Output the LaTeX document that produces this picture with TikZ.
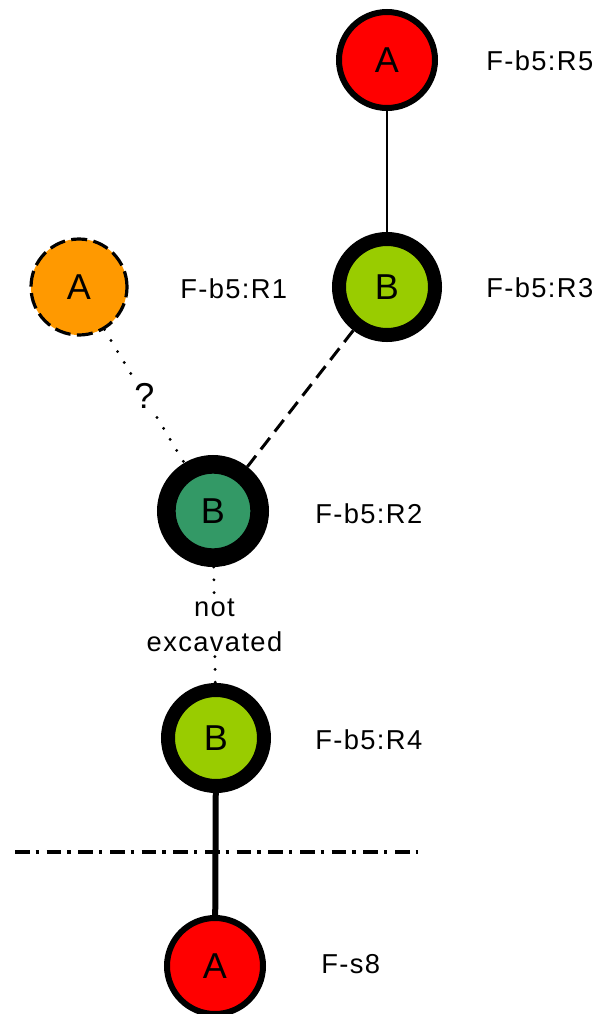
\documentclass[tikz,border=0pt]{standalone}
\usepackage{fontspec}
\setmainfont{Liberation Sans}
\usetikzlibrary{calc}

\definecolor{siteRed}{HTML}{FF0000}
\definecolor{siteOrange}{HTML}{FF9900}
\definecolor{siteLime}{HTML}{99CC00}
\definecolor{siteGreen}{HTML}{339966}

\begin{document}
\begin{tikzpicture}[x=0.75pt, y=-0.75pt,
    site/.style={circle, draw, inner sep=0pt, minimum size=72pt,
        font=\fontsize{27}{30}\selectfont},
    rimthin/.style={line width=4.5pt},
    rimthick/.style={line width=10.5pt},
    rimheavy/.style={line width=14pt, minimum size=70pt},
    rimdashed/.style={line width=2.4pt, dash pattern=on 12pt off 4.8pt},
    tag/.style={anchor=west, inner sep=0pt,
        font=\fontsize{20.5}{26}\selectfont\addfontfeature{LetterSpace=5}},
    dots/.style={line width=2.4pt, line cap=round, dash pattern=on 0pt off 9.6pt}]
    \useasboundingbox (0,0) rectangle (599,1014);

    % Define the sites
    \node[site, rimthin, fill=siteRed] (R5) at (387,60) {A};
    \node[site, rimthick, fill=siteLime] (R3) at (387,287) {B};
    \node[site, rimdashed, fill=siteOrange] (R1) at (79,287) {A};
    \node[site, rimheavy, fill=siteGreen] (R2) at (213,511) {B};
    \node[site, rimthick, fill=siteLime] (R4) at (216,738) {B};
    \node[site, rimthin, fill=siteRed] (S8) at (215,966) {A};

    % Place the labels beside the sites
    \node[tag] (R5tag) at (486,61) {F-b5:R5};
    \node[tag] (R3tag) at (486,288) {F-b5:R3};
    \node[tag] (R1tag) at (180,289) {F-b5:R1};
    \node[tag] (R2tag) at (315,514) {F-b5:R2};
    \node[tag] (R4tag) at (315,740) {F-b5:R4};
    \node[tag] (S8tag) at (321,964) {F-s8};

    % Draw the links between sites
    \draw[line width=1.5pt] (R5) -- (R3);
    \draw[line width=2.25pt, dash pattern=on 11pt off 6pt] (R3) -- (R2);
    \draw[dots] (R1) -- node[midway, fill=white, inner sep=3pt,
        font=\fontsize{27}{28}\selectfont] (ask) {?} (R2);
    \draw[dots] (R2) -- node[midway, fill=white, inner sep=2pt, align=center,
        font=\fontsize{20.5}{26}\selectfont\addfontfeature{LetterSpace=5}] (gap)
        {not\\excavated} (R4);
    \draw[line width=4.5pt] (R4) -- (S8);

    % Draw the dash-dot border line
    \coordinate (cutL) at (15,852);
    \coordinate (cutR) at (418,852);
    \draw[line width=3pt, dash pattern=on 11pt off 4.5pt on 2.5pt off 5.75pt] (cutL) -- (cutR);

\end{tikzpicture}
\end{document}
